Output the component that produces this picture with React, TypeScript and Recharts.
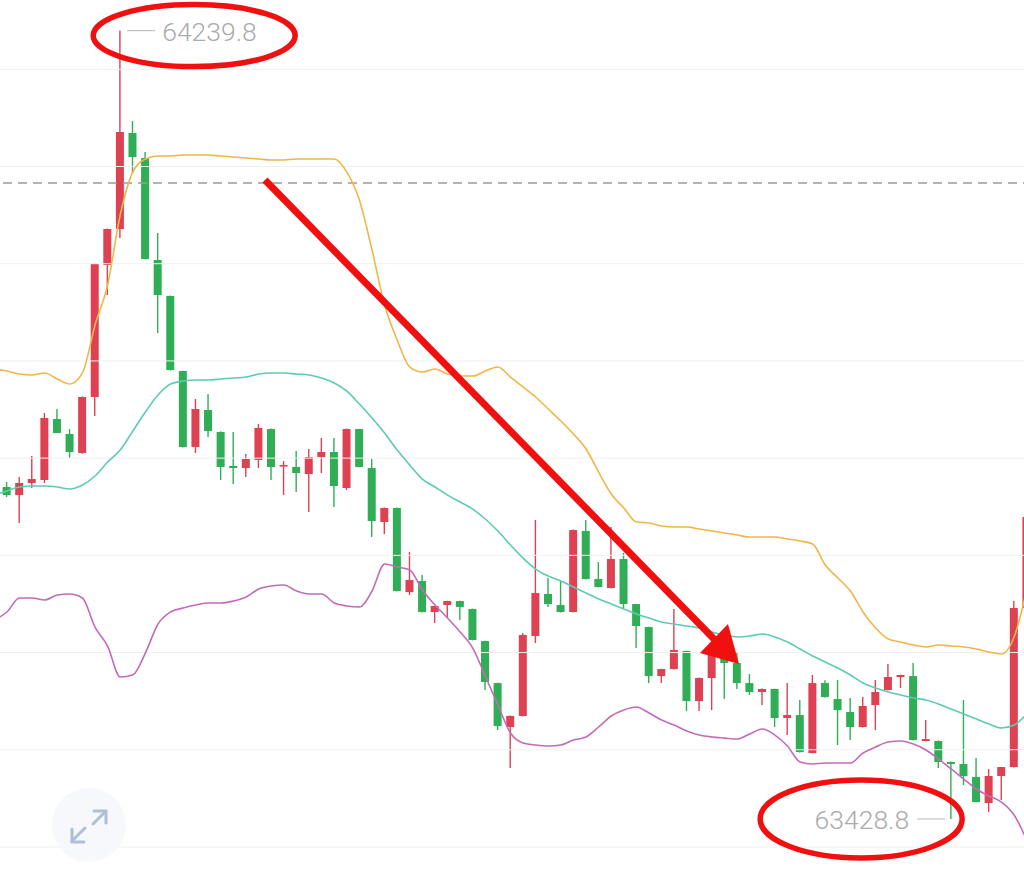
import React from 'react';
import { ComposedChart, Bar, Line, Scatter, XAxis, YAxis, ReferenceLine } from 'recharts';

// candles, index 0..81 (the last one is cut off by the right edge)
const opens = [
  63770.3, 63762.0, 63774.4, 63777.5, 63840.2, 63824.8, 63805.3, 63862.9, 63998.7, 64035.7,
  64134.5, 64108.7, 64003.8, 63966.8, 63889.6, 63811.4, 63849.5, 63826.9, 63791.9, 63789.8,
  63798.1, 63829.9, 63791.4, 63790.9, 63783.6, 63801.1, 63806.3, 63769.2, 63829.9, 63789.8,
  63734.3, 63748.7, 63662.2, 63673.6, 63641.7, 63648.9, 63653.0, 63644.8, 63611.8, 63568.6,
  63523.4, 63534.7, 63617.0, 63660.2, 63648.9, 63641.7, 63725.0, 63675.6, 63666.4, 63696.2,
  63649.9, 63626.2, 63575.8, 63583.0, 63601.6, 63550.1, 63573.8, 63594.3, 63589.2, 63568.6,
  63559.4, 63562.5, 63532.6, 63535.7, 63496.6, 63568.6, 63552.2, 63538.8, 63523.4, 63546.0,
  63561.4, 63574.8, 63575.8, 63509.0, 63509.0, 63487.4, 63485.3, 63472.0, 63445.2, 63473.0,
  63482.2, 63645.8,
];
const closes = [
  63762.0, 63774.4, 63778.5, 63841.3, 63825.8, 63806.3, 63862.9, 63999.7, 64035.7, 64135.5,
  64109.8, 64004.8, 63967.8, 63890.6, 63811.4, 63850.5, 63827.9, 63790.9, 63789.8, 63799.1,
  63831.0, 63790.9, 63792.9, 63784.7, 63801.1, 63806.3, 63771.3, 63829.9, 63790.9, 63735.3,
  63748.7, 63663.3, 63674.6, 63641.7, 63647.9, 63653.0, 63646.9, 63612.9, 63569.7, 63524.4,
  63534.7, 63618.0, 63661.2, 63649.9, 63641.7, 63726.0, 63675.6, 63667.4, 63696.2, 63649.9,
  63627.3, 63575.8, 63583.0, 63602.6, 63550.1, 63573.8, 63604.6, 63589.2, 63568.6, 63559.4,
  63562.5, 63532.6, 63535.7, 63497.6, 63568.6, 63554.2, 63540.8, 63523.4, 63545.0, 63559.4,
  63574.8, 63576.9, 63510.0, 63511.0, 63487.4, 63485.3, 63473.0, 63446.2, 63473.0, 63482.2,
  63645.8, 63739.4,
];
const highs = [
  63775.4, 63780.6, 63802.2, 63846.4, 63850.5, 63829.9, 63863.5, 64000.5, 64036.2, 64239.8,
  64146.8, 64114.9, 64031.6, 63967.2, 63890.0, 63860.8, 63866.0, 63827.5, 63826.9, 63804.2,
  63835.1, 63830.5, 63797.0, 63807.3, 63809.4, 63820.7, 63820.7, 63830.5, 63830.3, 63799.1,
  63749.2, 63749.2, 63703.4, 63679.7, 63648.3, 63653.4, 63653.4, 63645.2, 63612.2, 63569.0,
  63535.1, 63620.1, 63736.3, 63676.7, 63673.6, 63726.5, 63736.3, 63693.1, 63729.1, 63702.4,
  63650.3, 63626.6, 63583.4, 63644.8, 63602.0, 63574.2, 63605.0, 63600.5, 63600.5, 63577.9,
  63562.9, 63562.9, 63568.6, 63551.1, 63576.9, 63571.6, 63571.7, 63553.2, 63554.2, 63571.7,
  63588.2, 63577.3, 63589.2, 63530.6, 63509.4, 63487.8, 63551.1, 63491.5, 63480.2, 63482.6,
  63653.0, 63745.0,
];
const lows = [
  63760.0, 63733.2, 63769.2, 63774.4, 63825.8, 63800.1, 63804.5, 63843.3, 63967.8, 64026.4,
  64093.3, 64004.5, 63928.7, 63890.2, 63811.0, 63805.3, 63821.7, 63777.5, 63773.4, 63780.6,
  63789.8, 63777.5, 63762.0, 63765.1, 63744.6, 63784.7, 63749.7, 63767.2, 63790.5, 63718.8,
  63721.9, 63662.8, 63659.2, 63641.2, 63630.4, 63635.5, 63633.4, 63612.5, 63561.4, 63520.3,
  63481.2, 63534.3, 63609.8, 63646.9, 63641.2, 63641.2, 63675.2, 63667.0, 63666.0, 63645.8,
  63604.6, 63568.6, 63568.6, 63582.6, 63539.8, 63539.8, 63540.8, 63552.2, 63562.5, 63556.3,
  63546.0, 63523.4, 63515.1, 63497.2, 63496.2, 63553.8, 63504.8, 63510.0, 63523.0, 63520.3,
  63561.0, 63563.5, 63509.6, 63508.6, 63481.2, 63428.8, 63463.7, 63445.8, 63435.9, 63448.3,
  63481.8, 63640.0,
];

// bollinger bands, index -1..81 (one extra point off the left edge)
const upperBand = [
  63891.7, 63889.6, 63886.5, 63885.5, 63887.6, 63881.4, 63876.2, 63887.6, 63936.9, 63978.1,
  64050.1, 64094.3, 64107.7, 64110.8, 64110.8, 64111.8, 64111.8, 64111.8, 64110.8, 64109.8,
  64108.8, 64107.7, 64106.7, 64106.7, 64107.7, 64107.7, 64107.7, 64107.7, 64094.3, 64065.5,
  64014.1, 63957.5, 63921.5, 63893.7, 63888.6, 63891.7, 63886.5, 63884.5, 63884.5, 63889.6,
  63893.7, 63883.4, 63873.2, 63862.9, 63850.5, 63838.2, 63824.8, 63809.4, 63785.7, 63763.1,
  63748.7, 63734.3, 63733.2, 63730.2, 63729.1, 63729.1, 63727.1, 63725.0, 63723.0, 63720.9,
  63718.8, 63718.8, 63718.8, 63716.8, 63714.7, 63711.6, 63690.0, 63676.7, 63663.3, 63641.7,
  63625.2, 63613.9, 63610.8, 63607.7, 63605.7, 63607.7, 63606.7, 63605.7, 63603.6, 63600.5,
  63598.5, 63616.0, 63664.3,
];
const midBand = [
  63762.0, 63766.2, 63770.3, 63771.3, 63771.3, 63770.3, 63768.2, 63772.3, 63781.6, 63796.0,
  63808.3, 63827.9, 63847.4, 63864.9, 63876.2, 63879.3, 63880.4, 63880.4, 63881.4, 63882.4,
  63883.4, 63886.5, 63887.6, 63887.6, 63886.5, 63885.5, 63882.4, 63877.3, 63869.0, 63855.7,
  63841.3, 63825.8, 63808.3, 63792.9, 63778.5, 63770.3, 63762.0, 63754.8, 63747.6, 63737.4,
  63725.0, 63710.6, 63697.2, 63685.9, 63678.7, 63673.6, 63667.4, 63661.2, 63655.1, 63649.9,
  63644.8, 63639.6, 63635.5, 63631.4, 63629.3, 63627.3, 63625.2, 63621.1, 63618.0, 63616.0,
  63617.0, 63619.0, 63616.0, 63610.8, 63603.6, 63596.4, 63590.2, 63584.1, 63576.9, 63568.6,
  63563.5, 63559.4, 63556.3, 63553.2, 63551.1, 63547.0, 63541.9, 63536.7, 63531.6, 63526.5,
  63522.3, 63525.4, 63536.7,
];
const lowerBand = [
  63633.4, 63641.7, 63656.1, 63656.1, 63654.0, 63659.2, 63660.2, 63656.1, 63626.2, 63606.7,
  63574.8, 63576.9, 63599.5, 63629.3, 63641.7, 63645.8, 63648.9, 63650.9, 63650.9, 63653.0,
  63657.1, 63665.3, 63668.4, 63669.5, 63663.3, 63660.2, 63660.2, 63650.9, 63647.9, 63646.8,
  63663.3, 63691.1, 63688.0, 63684.9, 63664.3, 63648.9, 63635.5, 63621.1, 63604.6, 63575.8,
  63546.0, 63517.2, 63506.9, 63504.8, 63503.8, 63504.8, 63510.0, 63513.1, 63523.4, 63534.7,
  63540.9, 63543.9, 63537.8, 63530.6, 63525.4, 63519.3, 63515.1, 63513.1, 63512.0, 63511.0,
  63516.2, 63521.3, 63515.1, 63503.8, 63487.4, 63485.3, 63486.3, 63486.3, 63486.3, 63496.6,
  63502.8, 63507.9, 63509.0, 63505.9, 63499.7, 63490.4, 63480.2, 63469.9, 63459.6, 63452.4,
  63446.2, 63432.8, 63407.1,
];

const gridLevels = [64200, 64100, 64000, 63900, 63800, 63700, 63600, 63500, 63400];
const lastPrice = 64083.0;
const priceDomain = [63373.2, 64271.3];

const UP = '#de4152';
const DOWN = '#2fae55';
const MARK_RED = '#f01010';

const data = upperBand.map((u, k) => {
  const i = k - 1;
  const has = i >= 0;
  return {
    i,
    open: has ? opens[i] : null,
    close: has ? closes[i] : null,
    high: has ? highs[i] : null,
    low: has ? lows[i] : null,
    upper: u,
    mid: midBand[k],
    lower: lowerBand[k],
  };
});

const maxHigh = Math.max(...highs);
const maxIndex = highs.indexOf(maxHigh);
const minLow = Math.min(...lows.slice(0, 81));
const minIndex = lows.indexOf(minLow);

const Candle = (props: any) => {
  const { x, y, width, height, payload } = props;
  if (!payload || payload.open == null || height == null) return <g />;
  const top = Math.min(y, y + height);
  const h = Math.abs(height);
  const range = payload.high - payload.low;
  const ppu = range > 0 ? h / range : 0;
  const up = payload.close >= payload.open;
  const color = up ? UP : DOWN;
  let bodyTop = top + (payload.high - Math.max(payload.open, payload.close)) * ppu;
  let bodyH = Math.abs(payload.close - payload.open) * ppu;
  if (bodyH < 1.6) {
    bodyTop -= (1.6 - bodyH) / 2;
    bodyH = 1.6;
  }
  const cx = x + width / 2;
  return (
    <g>
      <line x1={cx} y1={top} x2={cx} y2={top + h} stroke={color} strokeWidth={1.4} />
      <rect x={x} y={bodyTop} width={width} height={bodyH} fill={color} />
    </g>
  );
};

const labelStyle = { fontFamily: 'Roboto, "Noto Sans", sans-serif', fontWeight: 300 };

const MaxMark = (props: any) => {
  const { cx, cy, payload } = props;
  if (!payload || payload.i !== maxIndex) return <g />;
  return (
    <g>
      <line x1={cx + 7} y1={cy} x2={cx + 35} y2={cy} stroke="#c4c4c4" strokeWidth={1.2} />
      <text x={cx + 42} y={cy + 1} dominantBaseline="central" fontSize={26.5} fill="#ababab" style={labelStyle}>
        {maxHigh.toFixed(1)}
      </text>
      <ellipse cx={cx + 74} cy={cy + 5} rx={101} ry={31} fill="none" stroke={MARK_RED} strokeWidth={5.5} />
    </g>
  );
};

const MinMark = (props: any) => {
  const { cx, cy, payload } = props;
  if (!payload || payload.i !== minIndex) return <g />;
  return (
    <g>
      <line x1={cx - 34} y1={cy} x2={cx - 6} y2={cy} stroke="#c4c4c4" strokeWidth={1.2} />
      <text x={cx - 42} y={cy + 1} dominantBaseline="central" textAnchor="end" fontSize={26.5} fill="#ababab" style={labelStyle}>
        {minLow.toFixed(1)}
      </text>
      <ellipse cx={cx - 90} cy={cy} rx={101} ry={39} fill="none" stroke={MARK_RED} strokeWidth={5.5} />
    </g>
  );
};

export default function App() {
  return (
    <div style={{ position: 'fixed', left: 0, top: 0, width: 1024, height: 873, overflow: 'hidden', background: '#fff' }}>
      <div style={{ position: 'absolute', left: -11.9, top: 0 }}>
        <ComposedChart width={1045} height={873} data={data} margin={{ top: 0, right: 0, bottom: 0, left: 0 }}>
          <XAxis dataKey="i" type="category" hide />
          <YAxis type="number" domain={priceDomain} allowDataOverflow hide />
          {gridLevels.map((g) => (
            <ReferenceLine key={g} y={g} stroke="#f0f0f0" strokeWidth={1} />
          ))}
          <ReferenceLine y={lastPrice} stroke="#9a9a9a" strokeWidth={1.5} strokeDasharray="9 6" />
          <Bar
            dataKey={(d: any) => (d.open == null ? null : [d.low, d.high])}
            barSize={8}
            shape={Candle}
            isAnimationActive={false}
          />
          <Line type="monotone" dataKey="upper" stroke="#efb648" strokeWidth={1.6} dot={false} isAnimationActive={false} />
          <Line type="monotone" dataKey="mid" stroke="#5ccbb3" strokeWidth={1.6} dot={false} isAnimationActive={false} />
          <Line type="monotone" dataKey="lower" stroke="#c46bb8" strokeWidth={1.6} dot={false} isAnimationActive={false} />
          <Scatter dataKey="high" shape={MaxMark} isAnimationActive={false} />
          <Scatter dataKey="low" shape={MinMark} isAnimationActive={false} />
        </ComposedChart>
      </div>
      <svg width={1024} height={873} style={{ position: 'absolute', left: 0, top: 0, pointerEvents: 'none' }}>
        <line x1={265} y1={180} x2={716} y2={641} stroke={MARK_RED} strokeWidth={7} />
        <polygon points="739,664 700,653 728,624" fill={MARK_RED} />
        <circle cx={89} cy={825} r={37} fill="#f6f8fc" />
        <g stroke="#adbfd9" strokeWidth={3} fill="none" strokeLinecap="round" strokeLinejoin="round">
          <line x1={93} y1={824} x2={106} y2={811} />
          <polyline points="94,811 106,811 106,823" />
          <line x1={85} y1={828} x2={72} y2={841} />
          <polyline points="72,829 72,842 84,842" />
        </g>
      </svg>
    </div>
  );
}
